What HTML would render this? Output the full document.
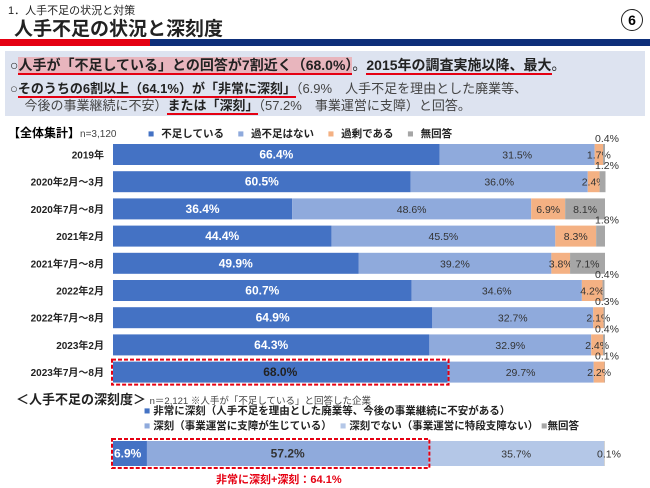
<!DOCTYPE html>
<html><head><meta charset="utf-8"><style>
body{margin:0;width:650px;height:488px;background:#fff;font-family:"Liberation Sans","Noto Sans CJK JP",sans-serif;position:relative;overflow:hidden}
.a{position:absolute;white-space:nowrap}
</style></head><body>
<div class="a" style="left:8px;top:2px;font-size:11px;color:#222">1．人手不足の状況と対策</div>
<div class="a" style="left:14px;top:14px;font-size:19px;font-weight:bold;color:#222">人手不足の状況と深刻度</div>
<div class="a" style="left:621px;top:9px;width:20px;height:20px;border:1.5px solid #222;border-radius:50%;text-align:center;line-height:20px;font-size:14px;font-weight:bold">6</div>
<div class="a" style="left:0;top:39px;width:150px;height:7px;background:#e50012"></div>
<div class="a" style="left:150px;top:39px;width:500px;height:7px;background:#0e2f7a"></div>
<div class="a" style="left:5px;top:51px;width:640px;height:65px;background:#dde3f0"></div>
<div class="a" style="left:10px;top:55px;font-size:14px;color:#222">○<b style="background:#e8b5bd;border-bottom:2px solid #e50012">人手が「不足している」との回答が7割近く（68.0%）</b>。<b style="border-bottom:2px solid #e50012">2015年の調査実施以降、最大</b>。</div>
<div class="a" style="left:10px;top:80px;font-size:13px;color:#444;line-height:17px">○<b style="color:#222;border-bottom:2px solid #e50012">そのうちの6割以上（64.1%）が「非常に深刻」</b>（6.9%　人手不足を理由とした廃業等、<br>&nbsp;&nbsp;&nbsp;&nbsp;今後の事業継続に不安）<b style="color:#222;border-bottom:2px solid #e50012">または「深刻」</b>（57.2%　事業運営に支障）と回答。</div>
<div class="a" style="left:8px;top:124px;font-size:12px;font-weight:bold">【全体集計】<span style="font-weight:normal;font-size:10px;color:#444">n=3,120</span></div>
<div class="a" style="left:148px;top:126px;font-size:10.5px;font-weight:bold;color:#222;word-spacing:4px">
<span><span style="color:#4472c4">■</span> 不足している</span>&nbsp;
<span><span style="color:#8faadc">■</span> 過不足はない</span>&nbsp;
<span><span style="color:#f4b183">■</span> 過剰である</span>&nbsp;
<span><span style="color:#a6a6a6">■</span> 無回答</span></div>
<svg id="chart" class="a" style="left:0;top:0" width="650" height="488"></svg>
<div class="a" style="left:16px;top:389px;font-size:13px;font-weight:bold;color:#222">＜人手不足の深刻度＞ <span style="font-weight:normal;font-size:9.5px;color:#444">n＝2,121 ※人手が「不足している」と回答した企業</span></div>
<div class="a" style="left:144px;top:404px;font-size:10.5px;font-weight:bold;color:#222;line-height:15px">
<span><span style="color:#4472c4">■</span> 非常に深刻（人手不足を理由とした廃業等、今後の事業継続に不安がある）</span><br>
<span><span style="color:#8faadc">■</span> 深刻（事業運営に支障が生じている）</span>　 <span><span style="color:#b4c7e7">■</span> 深刻でない（事業運営に特段支障ない）</span> <span><span style="color:#a6a6a6">■</span>無回答</span></div>
<div class="a" style="left:216px;top:471px;font-size:11px;font-weight:bold;color:#e50012">非常に深刻+深刻：64.1%</div>
<script>
const categories=["2019年","2020年2月～3月","2020年7月～8月","2021年2月","2021年7月～8月","2022年2月","2022年7月～8月","2023年2月","2023年7月～8月"];
const shortage=[66.4,60.5,36.4,44.4,49.9,60.7,64.9,64.3,68.0];
const adequate=[31.5,36.0,48.6,45.5,39.2,34.6,32.7,32.9,29.7];
const excess=[1.7,2.4,6.9,8.3,3.8,4.2,2.1,2.4,2.2];
const noAnswer=[0.4,1.2,8.1,1.8,7.1,0.4,0.3,0.4,0.1];
const severityLabels=["非常に深刻","深刻","深刻でない","無回答"];
const severity=[6.9,57.2,35.7,0.1];
const svg=document.getElementById('chart');const NS='http://www.w3.org/2000/svg';
const X0=113,W=492;const x=v=>X0+v/100*W;const rowY=i=>144+i*27.2;const BH=21;
function mk(t,a,p){const e=document.createElementNS(NS,t);for(const k in a)e.setAttribute(k,a[k]);(p||svg).appendChild(e);return e;}
const colors=["#4472c4","#8faadc","#f4b183","#a6a6a6"];
const series=[shortage,adequate,excess,noAnswer];
const snames=["shortage","adequate","excess","no-answer"];
categories.forEach((c,i)=>{
 const y=rowY(i);
 const t=mk('text',{x:104,y:y+BH/2+4,'text-anchor':'end','font-size':10,'font-weight':'bold',fill:'#222'});t.textContent=c;
 
 
 let acc=0;
 series.forEach((s,k)=>{
  const v=s[i];
  const r=mk('rect',{x:x(acc),y:y,width:x(acc+v)-x(acc),height:BH,fill:colors[k]});
  
  
  const cx=(x(acc)+x(acc+v))/2;
  let tx=cx,ty=y+BH/2+4,anchor='middle';
  if(k===3&&v<2){ty=y-2;tx=x(100)+2;}
  const lbl=mk('text',{x:tx,y:ty,'text-anchor':anchor,'font-size':k===0?12:10.5,'font-weight':(k===0)?'bold':'normal',fill:k===0?(i===8?'#222':'#fff'):'#333'});
  lbl.textContent=v.toFixed(1)+'%';
  
  
  acc+=v;
 });
});
let hy=rowY(8);
const hb=mk('rect',{x:X0-1,y:hy-2,width:x(shortage[8])-X0+2,height:BH+4,fill:'none',stroke:'#e50012','stroke-width':2,'stroke-dasharray':'4,2'});


const sc=["#4472c4","#8faadc","#b4c7e7","#a6a6a6"];
const SY=441,SH=25;let acc=0;
severity.forEach((v,k)=>{
 const r=mk('rect',{x:x(acc),y:SY,width:x(acc+v)-x(acc),height:SH,fill:sc[k]});
 
 
 const cx=k===3?x(100)+4:(x(acc)+x(acc+v))/2;
 const l=mk('text',{x:k===0?x(acc)+1:cx,y:SY+SH/2+4,'text-anchor':k===0?'start':'middle','font-size':k<2?12:10.5,'font-weight':k<2?'bold':'normal',fill:k===0?'#fff':'#333'});
 l.textContent=v.toFixed(1)+'%';
 
 
 acc+=v;
});
const sb=mk('rect',{x:X0-1,y:SY-2,width:x(severity[0]+severity[1])-X0+2,height:SH+4,fill:'none',stroke:'#e50012','stroke-width':2,'stroke-dasharray':'4,2'});


</script>
</body></html>
